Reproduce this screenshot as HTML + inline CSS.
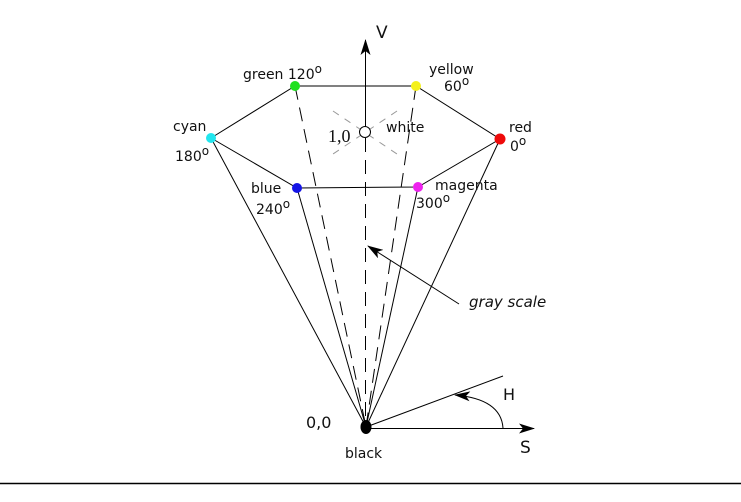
<!DOCTYPE html>
<html><head><style>
html,body{margin:0;padding:0;background:#fff;}
svg{display:block;}
text{font-family:"DejaVu Sans","Liberation Sans",sans-serif;font-size:14px;fill:#111;}
.d{font-size:12px;}
</style></head><body>
<svg width="741" height="502" viewBox="0 0 741 502">
<defs>
<marker id="a" markerWidth="16" markerHeight="10" refX="15" refY="5" orient="auto" markerUnits="userSpaceOnUse"><path d="M0,0 L16,5 L0,10 L4,5 Z" fill="#000"/></marker>
</defs>
<g stroke="#000" stroke-width="1" fill="none">
<polyline points="211,138 295,86 416,86 500,139 418,187 297,188 211,138"/>
<line x1="211" y1="138" x2="366" y2="427"/>
<line x1="297" y1="188" x2="366" y2="427"/>
<line x1="418" y1="187" x2="366" y2="427"/>
<line x1="500" y1="139" x2="366" y2="427"/>
<g stroke-dasharray="14,8">
<line x1="295" y1="86" x2="366" y2="427"/>
<line x1="416" y1="86" x2="366" y2="427"/>
<line x1="365.5" y1="138" x2="365.5" y2="427"/>
</g>
<g stroke="#999" stroke-dasharray="7,7">
<line x1="333" y1="111" x2="397" y2="154"/>
<line x1="397" y1="111" x2="333" y2="154"/>
</g>
<line x1="365.5" y1="127" x2="365.5" y2="40" marker-end="url(#a)"/>
<line x1="459" y1="304" x2="368" y2="246" marker-end="url(#a)"/>
<line x1="366" y1="427" x2="503" y2="376"/>
<line x1="366" y1="428.5" x2="534" y2="428.5" marker-end="url(#a)"/>
<path d="M503,428 Q501,399 455,395" marker-end="url(#a)"/>
<line x1="0" y1="483.5" x2="741" y2="483.5" stroke-width="1.5"/>
</g>
<circle cx="295" cy="86" r="5" fill="#1ee01e"/>
<circle cx="416" cy="86" r="5" fill="#f4f01a"/>
<circle cx="211" cy="138" r="5" fill="#22e6ee"/>
<circle cx="500" cy="139" r="5.5" fill="#ee0a0a"/>
<circle cx="297" cy="188" r="5" fill="#1414e6"/>
<circle cx="418" cy="187" r="5" fill="#ee22ee"/>
<circle cx="365" cy="132" r="5.5" fill="#fff" stroke="#000"/>
<ellipse cx="366" cy="427" rx="5.5" ry="7" fill="#000"/>
<text x="376" y="38" style="font-size:17px">V</text>
<text x="243" y="79">green 120<tspan dy="-6" class="d">o</tspan></text>
<text x="429" y="74">yellow</text>
<text x="444" y="91">60<tspan dy="-6" class="d">o</tspan></text>
<text x="173" y="131">cyan</text>
<text x="175" y="161">180<tspan dy="-6" class="d">o</tspan></text>
<text x="509" y="132">red</text>
<text x="510" y="151">0<tspan dy="-6" class="d">o</tspan></text>
<text x="251" y="193">blue</text>
<text x="256" y="214">240<tspan dy="-6" class="d">o</tspan></text>
<text x="435" y="190">magenta</text>
<text x="416" y="208">300<tspan dy="-6" class="d">o</tspan></text>
<text x="328" y="142" style="font-family:'Liberation Serif',serif;font-size:18px">1,0</text>
<text x="386" y="132">white</text>
<text x="469" y="307" style="font-style:italic;font-size:15px">gray scale</text>
<text x="306" y="428" style="font-size:16px">0,0</text>
<text x="345" y="458">black</text>
<text x="503" y="400" style="font-size:16px">H</text>
<text x="520" y="453" style="font-size:17px">S</text>
</svg>
</body></html>
